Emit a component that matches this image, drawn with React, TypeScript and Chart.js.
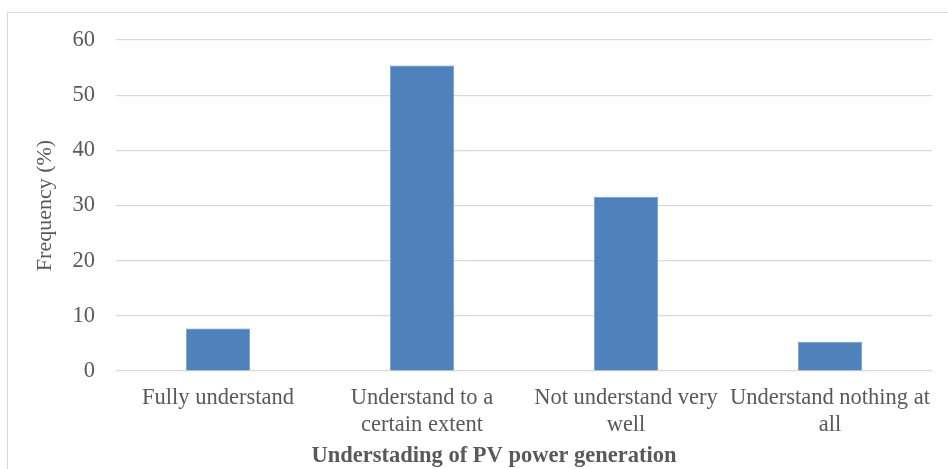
import React, { useEffect, useRef } from "react";
import { Chart, registerables } from "chart.js";

Chart.register(...registerables);

const categories: (string | string[])[] = [
  "Fully understand",
  ["Understand to a", "certain extent"],
  ["Not understand very", "well"],
  ["Understand nothing at", "all"],
];
const frequency: number[] = [7.7, 55.4, 31.6, 5.3];
const yTicks: number[] = [0, 10, 20, 30, 40, 50, 60];
const xTitle = "Understading of PV power generation";
const yTitle = "Frequency (%)";

const FONT = "'Liberation Serif', 'Times New Roman', serif";
const TEXT = "#595959";
const GRID = "#d9d9d9";

const xTitlePlugin = {
  id: "xTitlePlugin",
  afterDraw(chart: any) {
    const { ctx, chartArea } = chart;
    ctx.save();
    ctx.font = `bold 22.5px ${FONT}`;
    ctx.fillStyle = TEXT;
    ctx.textAlign = "center";
    ctx.textBaseline = "alphabetic";
    const cx = (chartArea.left + chartArea.right) / 2 - 30;
    ctx.fillText(xTitle, cx, chartArea.bottom + 90.5);
    ctx.restore();
  },
};

export default function App() {
  const ref = useRef<HTMLCanvasElement | null>(null);

  useEffect(() => {
    document.body.style.margin = "0";
    const ctx = ref.current;
    if (!ctx) return;
    const chart = new Chart(ctx, {
      type: "bar",
      data: {
        labels: categories,
        datasets: [
          {
            data: frequency,
            backgroundColor: "#4F81BD",
            borderColor: "#6e97c9",
            borderWidth: 0.8,
            categoryPercentage: 1,
            barPercentage: 0.314,
          },
        ],
      },
      plugins: [xTitlePlugin],
      options: {
        animation: false,
        responsive: false,
        maintainAspectRatio: false,
        layout: { padding: { left: 0, right: 16, top: 40, bottom: 0 } },
        plugins: {
          legend: { display: false },
          tooltip: { enabled: false },
        },
        scales: {
          x: {
            grid: { display: false, drawTicks: false },
            border: { display: false },
            ticks: {
              color: TEXT,
              font: { family: FONT, size: 22.5 },
              maxRotation: 0,
              minRotation: 0,
              autoSkip: false,
              padding: 14,
            },
            afterFit: (s: any) => {
              s.height = 98;
            },
          },
          y: {
            min: 0,
            max: 60,
            afterBuildTicks: (s: any) => {
              s.ticks = yTicks.map((v) => ({ value: v }));
            },
            grid: { color: GRID, lineWidth: 1.2, drawTicks: false },
            border: { display: false },
            ticks: {
              color: TEXT,
              font: { family: FONT, size: 22.5 },
              padding: 21,
            },
            title: {
              display: true,
              text: yTitle,
              color: TEXT,
              font: { family: FONT, size: 22 },
              padding: { top: 32, bottom: 0 },
            },
            afterFit: (s: any) => {
              s.width = 116;
            },
          },
        },
      },
    });
    return () => chart.destroy();
  }, []);

  return (
    <div
      style={{
        position: "absolute",
        left: 0,
        top: 0,
        width: 948,
        height: 469,
        overflow: "hidden",
        background: "#fff",
      }}
    >
      <div
        style={{
          position: "absolute",
          left: 7,
          top: 12,
          width: 1000,
          height: 1000,
          border: "1px solid #d9d9d9",
        }}
      />
      <canvas
        ref={ref}
        width={948}
        height={469}
        style={{ position: "absolute", left: 0, top: 0, width: 948, height: 469 }}
      />
    </div>
  );
}
